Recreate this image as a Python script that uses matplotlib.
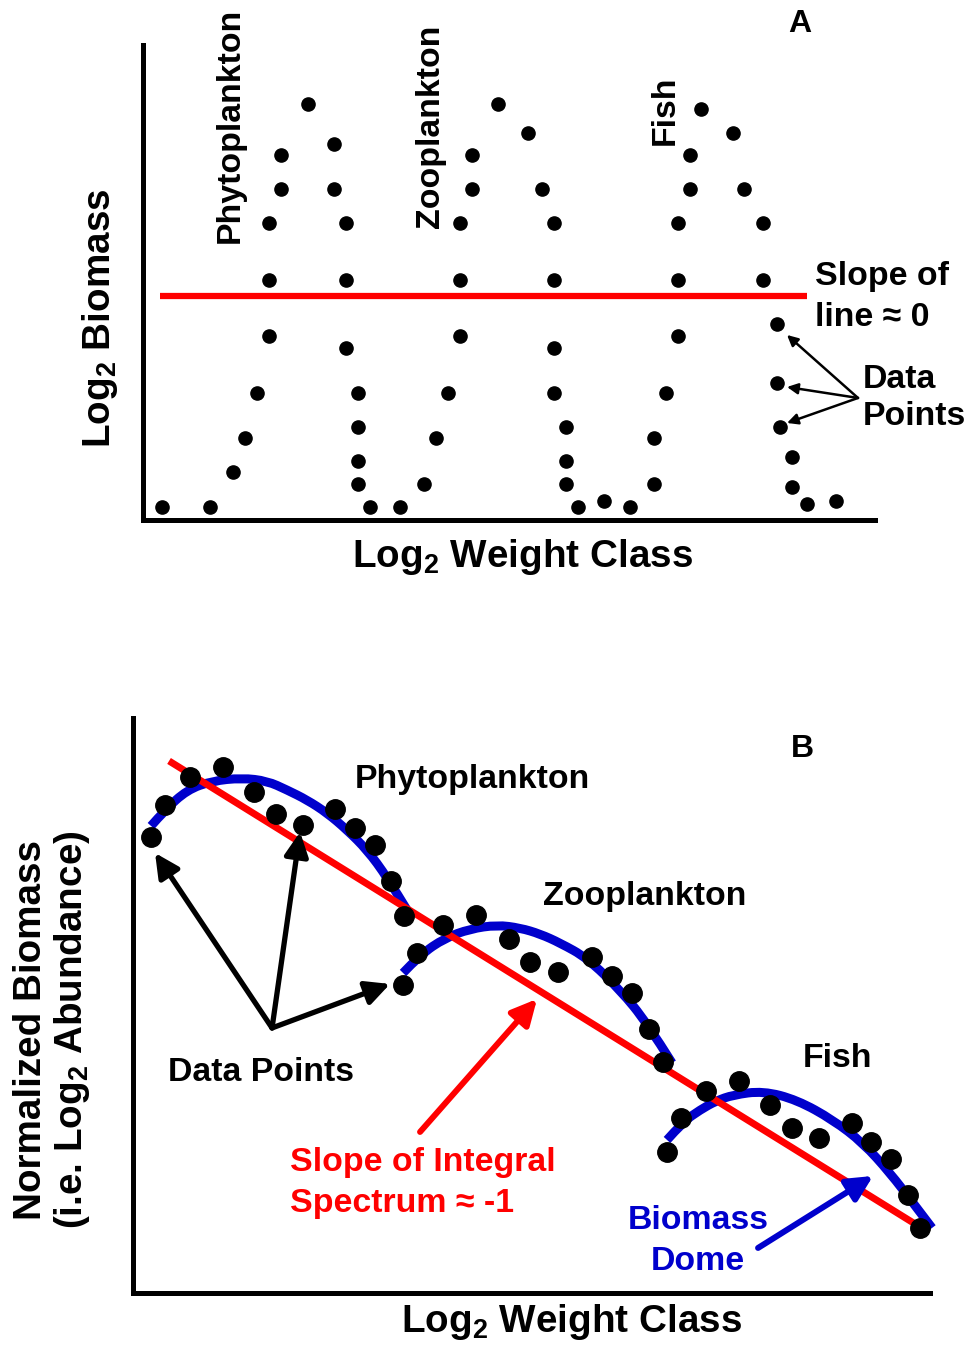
import matplotlib
matplotlib.use("Agg")
import matplotlib.pyplot as plt
from matplotlib.path import Path
from matplotlib.patches import PathPatch

plt.rcParams['font.family'] = ['Liberation Sans', 'DejaVu Sans']
plt.rcParams['font.weight'] = 'bold'
plt.rcParams['axes.labelweight'] = 'bold'
plt.rcParams['mathtext.fontset'] = 'custom'
plt.rcParams['mathtext.rm'] = 'Liberation Sans:bold'
plt.rcParams['mathtext.bf'] = 'Liberation Sans:bold'
plt.rcParams['mathtext.default'] = 'rm'

# ---- Panel A: biomass per weight class (log2 units, arbitrary) ----
phyto_a_x = [1.9, 6.7, 9.0, 10.2, 11.4, 12.6, 12.6, 12.6, 13.8, 13.8, 16.5,
             19.1, 19.1, 20.3, 20.3, 20.3, 21.5, 21.5, 21.5, 21.5, 22.7, 25.7]
phyto_a_y = [1.3, 1.3, 4.8, 8.2, 12.7, 18.4, 24.0, 29.7, 33.1, 36.5, 41.6,
             37.6, 33.1, 29.7, 24.0, 17.2, 12.7, 9.3, 5.9, 3.6, 1.3, 1.3]
zoo_a_x = [28.1, 29.3, 30.5, 31.7, 31.7, 31.7, 32.9, 32.9, 35.5, 38.5, 39.9,
           41.1, 41.1, 41.1, 41.1, 42.3, 42.3, 42.3, 43.5, 46.1, 48.7]
zoo_a_y = [3.6, 8.2, 12.7, 18.4, 24.0, 29.7, 33.1, 36.5, 41.6, 38.7, 33.1,
           29.7, 24.0, 17.2, 12.7, 9.3, 5.9, 3.6, 1.3, 1.9, 1.3]
fish_a_x = [51.1, 51.1, 52.3, 53.5, 53.5, 53.5, 54.7, 54.7, 55.8, 59.0, 60.1,
            62.0, 62.0, 63.4, 63.4, 63.7, 64.9, 64.9, 66.4, 69.3]
fish_a_y = [3.6, 8.2, 12.7, 18.4, 24.0, 29.7, 33.1, 36.5, 41.1, 38.7, 33.1,
            29.7, 24.0, 19.6, 13.7, 9.3, 6.3, 3.3, 1.6, 1.9]
flat_line_x = [1.7, 66.4]
flat_line_y = [22.4, 22.4]

# ---- Panel B: normalized biomass ----
phyto_b_x = [1.8, 3.2, 5.7, 9.0, 12.1, 14.3, 17.0, 20.2, 22.2, 24.2, 25.8, 27.1]
phyto_b_y = [45.6, 48.8, 51.6, 52.6, 50.1, 47.9, 46.8, 48.4, 46.5, 44.8, 41.2, 37.7]
zoo_b_x = [27.0, 28.4, 31.0, 34.3, 37.6, 39.7, 42.5, 45.9, 47.9, 49.9, 51.6, 53.0]
zoo_b_y = [30.8, 34.0, 36.8, 37.8, 35.4, 33.1, 32.1, 33.6, 31.7, 30.0, 26.4, 23.1]
fish_b_x = [53.4, 54.8, 57.3, 60.6, 63.7, 65.9, 68.6, 71.9, 73.8, 75.8, 77.5, 78.7]
fish_b_y = [14.1, 17.5, 20.2, 21.2, 18.8, 16.5, 15.5, 17.0, 15.1, 13.4, 9.8, 6.5]

# dome outlines
phyto_dome_x = [1.8, 3.2, 5.4, 7.9, 10.9, 13.4, 15.4, 17.4, 19.4, 21.4, 23.4, 25.4, 27.4]
phyto_dome_y = [46.7, 48.3, 50.3, 51.2, 51.5, 51.2, 50.3, 49.3, 48.0, 46.3, 44.3, 41.6, 38.3]
zoo_dome_x = [27.0, 28.7, 31.2, 33.7, 36.4, 38.7, 40.7, 42.7, 45.4, 48.7, 51.4, 53.9]
zoo_dome_y = [32.0, 33.8, 35.5, 36.4, 36.8, 36.5, 35.9, 35.0, 33.5, 30.3, 27.0, 23.0]
fish_dome_x = [53.4, 55.0, 56.7, 58.3, 60.0, 63.0, 66.4, 70.0, 73.0, 75.7, 78.0, 79.9]
fish_dome_y = [15.3, 17.1, 18.3, 19.2, 19.8, 20.2, 19.3, 17.3, 15.0, 12.0, 9.0, 6.5]
slope_line_x = [3.6, 78.2]
slope_line_y = [53.2, 6.9]

RED = '#FF0000'
BLUE = '#0000CC'
FS = 24.4
LFS = 27.8


def smooth_path(xs, ys):
    # quadratic B-spline over the read points
    pts = list(zip(xs, ys))
    verts = [pts[0]]
    codes = [Path.MOVETO]
    for i in range(1, len(pts) - 2):
        mid = ((pts[i][0] + pts[i + 1][0]) / 2, (pts[i][1] + pts[i + 1][1]) / 2)
        verts += [pts[i], mid]
        codes += [Path.CURVE3, Path.CURVE3]
    verts += [pts[-2], pts[-1]]
    codes += [Path.CURVE3, Path.CURVE3]
    return Path(verts, codes)


fig = plt.figure(figsize=(9.69, 13.45), dpi=100)

# ===================== Panel A =====================
axA = fig.add_axes([0.1476, 0.6134, 0.7554, 0.3532])
axA.set_xlim(0, 73.2)
axA.set_ylim(0, 47.5)
for sp in ['top', 'right']:
    axA.spines[sp].set_visible(False)
for sp in ['left', 'bottom']:
    axA.spines[sp].set_linewidth(3.6)
axA.set_xticks([])
axA.set_yticks([])

axA.plot(flat_line_x, flat_line_y, color=RED, lw=4.5, solid_capstyle='butt')
for xs, ys in [(phyto_a_x, phyto_a_y), (zoo_a_x, zoo_a_y), (fish_a_x, fish_a_y)]:
    axA.plot(xs, ys, 'o', color='black', ms=9.5, clip_on=False)

axA.text(8.7, 27.7, 'Phytoplankton', rotation=90, ha='center', va='bottom', fontsize=FS)
axA.text(28.7, 29.2, 'Zooplankton', rotation=90, ha='center', va='bottom', fontsize=FS)
axA.text(52.2, 37.5, 'Fish', rotation=90, ha='center', va='bottom', fontsize=FS)
axA.text(65.7, 49.6, 'A', ha='center', va='center', fontsize=23)
axA.text(67.2, 22.3, 'Slope of\nline \u2248 0', ha='left', va='center', fontsize=FS,
         linespacing=1.42)
axA.text(72.0, 12.2, 'Data\nPoints', ha='left', va='center', fontsize=FS,
         linespacing=1.28)
for hx, hy in [(64.4, 18.5), (64.4, 13.3), (64.4, 9.7)]:
    axA.annotate('', xy=(hx, hy), xytext=(71.5, 12.2),
                 arrowprops=dict(arrowstyle='-|>', color='black', lw=1.8,
                                 mutation_scale=16, shrinkA=0, shrinkB=0))

axA.set_xlabel(r'Log$_{2}$ Weight Class', fontsize=LFS, va='center')
axA.xaxis.set_label_coords(0.519, -0.078)
axA.set_ylabel(r'Log$_{2}$ Biomass', fontsize=LFS, va='center')
axA.yaxis.set_label_coords(-0.059, 0.425)

# ===================== Panel B =====================
axB = fig.add_axes([0.1373, 0.0387, 0.8225, 0.4275])
axB.set_xlim(0, 79.7)
axB.set_ylim(0, 57.5)
for sp in ['top', 'right']:
    axB.spines[sp].set_visible(False)
for sp in ['left', 'bottom']:
    axB.spines[sp].set_linewidth(3.6)
axB.set_xticks([])
axB.set_yticks([])

for xs, ys in [(phyto_dome_x, phyto_dome_y), (zoo_dome_x, zoo_dome_y), (fish_dome_x, fish_dome_y)]:
    axB.add_patch(PathPatch(smooth_path(xs, ys), facecolor='none', edgecolor=BLUE,
                            lw=6.5, capstyle='butt', clip_on=False))
axB.plot(slope_line_x, slope_line_y, color=RED, lw=5, solid_capstyle='butt')
for xs, ys in [(phyto_b_x, phyto_b_y), (zoo_b_x, zoo_b_y), (fish_b_x, fish_b_y)]:
    axB.plot(xs, ys, 'o', color='black', ms=14, clip_on=False)

for hx, hy in [(2.2, 44.0), (16.7, 46.1), (25.7, 30.9)]:
    axB.annotate('', xy=(hx, hy), xytext=(13.9, 26.5),
                 arrowprops=dict(arrowstyle='-|>', color='black', lw=3.8,
                                 mutation_scale=36, shrinkA=0, shrinkB=0))
axB.annotate('', xy=(40.4, 29.4), xytext=(28.7, 16.1),
             arrowprops=dict(arrowstyle='-|>', color=RED, lw=4.3,
                             mutation_scale=38, shrinkA=0, shrinkB=0))
axB.annotate('', xy=(74.0, 11.7), xytext=(62.5, 4.5),
             arrowprops=dict(arrowstyle='-|>', color=BLUE, lw=4.3,
                             mutation_scale=38, shrinkA=0, shrinkB=0))

axB.text(66.9, 54.4, 'B', ha='center', va='center', fontsize=23)
axB.text(22.2, 51.3, 'Phytoplankton', ha='left', va='center', fontsize=FS)
axB.text(41.0, 39.6, 'Zooplankton', ha='left', va='center', fontsize=FS)
axB.text(67.0, 23.4, 'Fish', ha='left', va='center', fontsize=FS)
axB.text(3.5, 22.0, 'Data Points', ha='left', va='center', fontsize=FS)
axB.text(15.7, 11.0, 'Slope of Integral\nSpectrum \u2248 -1', ha='left', va='center',
         fontsize=FS, color=RED, linespacing=1.42)
axB.text(56.5, 5.2, 'Biomass\nDome', ha='center', va='center', fontsize=FS,
         color=BLUE, multialignment='center', linespacing=1.45)

axB.set_xlabel(r'Log$_{2}$ Weight Class', fontsize=LFS, va='center')
axB.xaxis.set_label_coords(0.55, -0.050)
axB.set_ylabel('Normalized Biomass\n(i.e. Log$_{2}$ Abundance)', fontsize=LFS,
               va='center', linespacing=1.1)
axB.yaxis.set_label_coords(-0.101, 0.457)

fig.savefig('out.png', dpi=100)
